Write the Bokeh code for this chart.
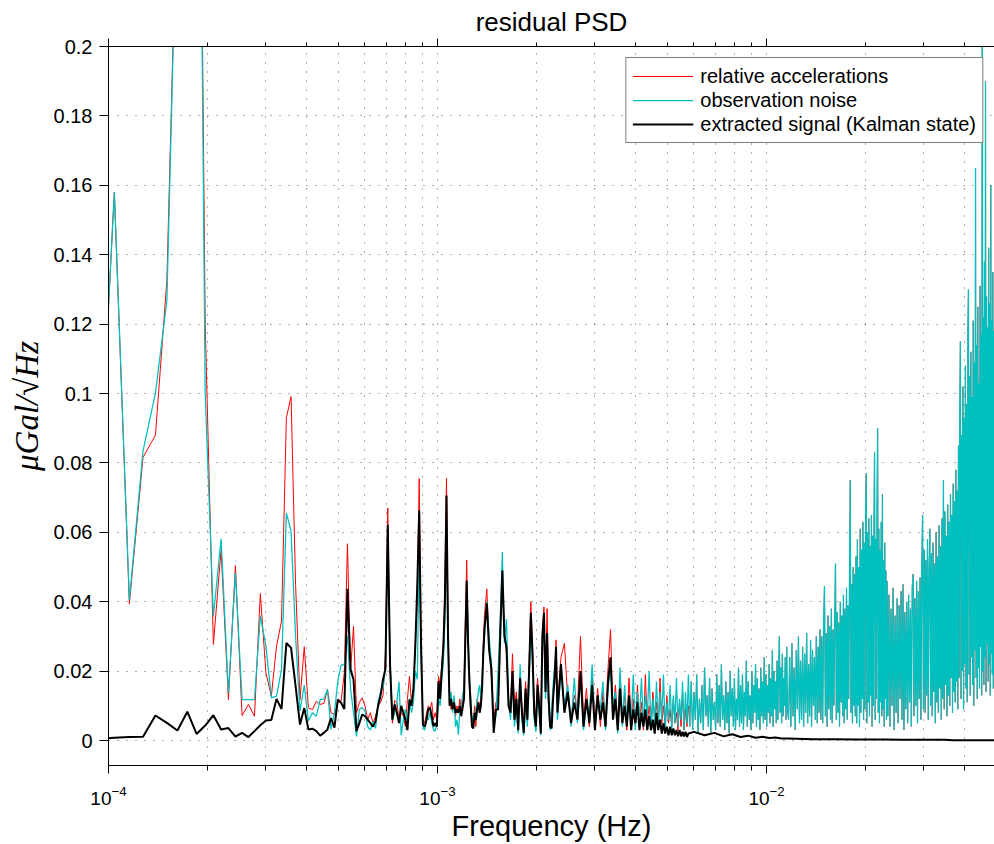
from bokeh.plotting import figure
from bokeh.models import (LogAxis, FixedTicker, PrintfTickFormatter, LogTickFormatter, Range1d)
from bokeh.embed import file_html
from bokeh.resources import INLINE

# FFT bin width: one-day record -> df = 1/86400 Hz
DAY_SECONDS = 86400.0

# ---- frequency bins (bin index k, f = k/86400) ----
BINS_LOW = list(range(8, 81))
BINS_B1 = list(range(81, 121))
BINS_B2 = list(range(122, 201, 2))
BINS_B3 = list(range(205, 501, 5))
BINS_C1 = list(range(505, 1001, 5))
BINS_C2A = list(range(1008, 2009, 8))
BINS_C2B = list(range(2020, 4316, 15))
BINS_BLACK_TAIL = [520, 560, 600, 640, 680, 720, 760, 800, 840, 880, 920, 960, 1000,
                   1200, 1400, 1600, 1800, 2000, 2200, 2400, 2600, 2800, 3000, 3200,
                   3400, 3600, 3800, 4000, 4200, 4320]

# ---- observation noise (cyan) ----
CYAN_LOW = [0.063, 0.158,
            0.0405, 0.0835, 0.1001, 0.1267, 0.250, 0.340, 0.380, 0.100, 0.0358, 0.0581,
            0.0137, 0.0483, 0.0118, 0.0118, 0.0118, 0.0360, 0.0272, 0.0123, 0.0128, 0.0205,
            0.0656, 0.0603, 0.0300, 0.0085, 0.0160, 0.0056, 0.0080, 0.0070, 0.0118, 0.0120,
            0.0147, 0.0032, 0.0080, 0.0171, 0.0217, 0.0219, 0.0300, 0.0150, 0.0080, 0.0012,
            0.0090, 0.0095, 0.0085, 0.0040, 0.0030, 0.0055, 0.0035, 0.0110, 0.0140, 0.0150,
            0.0214, 0.0580, 0.0229, 0.0060, 0.0080, 0.0110, 0.0170, 0.0015, 0.0060, 0.0090,
            0.0050, 0.0120, 0.0080, 0.0110, 0.0200, 0.0176, 0.0560, 0.0250, 0.0040, 0.0030,
            0.0060]
CYAN_B1 = [0.006, 0.008, 0.005, 0.003, 0.0027, 0.005, 0.012, 0.010, 0.018, 0.022,
           0.035, 0.062, 0.028, 0.011, 0.014, 0.008, 0.013, 0.004, 0.006, 0.0017,
           0.009, 0.010, 0.013, 0.015, 0.028, 0.043, 0.032, 0.019, 0.012, 0.005,
           0.007, 0.006, 0.009, 0.011, 0.014, 0.016, 0.012, 0.018, 0.024, 0.030]
CYAN_B2 = [0.040, 0.030, 0.022, 0.004, 0.007, 0.020, 0.035, 0.0543, 0.028, 0.035,
           0.013, 0.006, 0.018, 0.004, 0.009, 0.002, 0.022, 0.006, 0.0015, 0.012,
           0.004, 0.016, 0.034, 0.022, 0.006, 0.0025, 0.014, 0.008, 0.0015, 0.027,
           0.033, 0.012, 0.028, 0.010, 0.003, 0.009, 0.016, 0.021, 0.024, 0.006]
CYAN_B3 = [0.020, 0.010, 0.016, 0.004, 0.018, 0.005, 0.018, 0.003, 0.010, 0.008,
           0.022, 0.004, 0.011, 0.009, 0.017, 0.003, 0.015, 0.022, 0.010, 0.014,
           0.002, 0.021, 0.004, 0.016, 0.006, 0.012, 0.005, 0.019, 0.003, 0.014,
           0.006, 0.018, 0.004, 0.013, 0.007, 0.020, 0.003, 0.012, 0.005, 0.017,
           0.004, 0.014, 0.006, 0.019, 0.003, 0.011, 0.006, 0.016, 0.003, 0.013,
           0.005, 0.018, 0.004, 0.012, 0.006, 0.017, 0.003, 0.014, 0.005, 0.019]

# ---- relative accelerations (red) ----
RED_LOW = [0.063, 0.158,
           0.0394, 0.0816, 0.0880, 0.1326, 0.250, 0.340, 0.380, 0.120, 0.0277, 0.0550,
           0.0118, 0.0504, 0.0072, 0.0104, 0.0070, 0.0423, 0.0195, 0.0128, 0.0272, 0.0344,
           0.0930, 0.0991, 0.0450, 0.0118, 0.0270, 0.0094, 0.0089, 0.0113, 0.0104, 0.0107,
           0.0147, 0.0080, 0.0075, 0.0109, 0.0113, 0.0195, 0.0567, 0.0200, 0.0330, 0.0080,
           0.0110, 0.0123, 0.0100, 0.0060, 0.0080, 0.0050, 0.0070, 0.0100, 0.0110, 0.0130,
           0.0250, 0.0670, 0.0200, 0.0050, 0.0115, 0.0110, 0.0060, 0.0080, 0.0070, 0.0040,
           0.0120, 0.0185, 0.0110, 0.0130, 0.0290, 0.0400, 0.0755, 0.0300, 0.0060, 0.0050,
           0.0080]
RED_B1 = [0.010, 0.009, 0.011, 0.006, 0.008, 0.006, 0.0185, 0.016, 0.022, 0.028,
          0.048, 0.0755, 0.034, 0.012, 0.009, 0.010, 0.012, 0.007, 0.010, 0.008,
          0.012, 0.009, 0.011, 0.016, 0.035, 0.052, 0.030, 0.015, 0.008, 0.006,
          0.005, 0.010, 0.004, 0.012, 0.010, 0.009, 0.013, 0.017, 0.028, 0.036]
RED_B2 = [0.0437, 0.028, 0.018, 0.006, 0.011, 0.012, 0.033, 0.046, 0.032, 0.025,
          0.012, 0.009, 0.025, 0.010, 0.014, 0.005, 0.016, 0.010, 0.004, 0.017,
          0.008, 0.022, 0.040, 0.027, 0.010, 0.007, 0.018, 0.012, 0.004, 0.032,
          0.0385, 0.016, 0.038, 0.014, 0.006, 0.005, 0.014, 0.016, 0.029, 0.010]
RED_B3 = [0.024, 0.028, 0.012, 0.007, 0.013, 0.009, 0.030, 0.006, 0.015, 0.004,
          0.018, 0.006, 0.015, 0.004, 0.014, 0.006, 0.021, 0.032, 0.008, 0.016,
          0.005, 0.019, 0.007, 0.013, 0.003, 0.018, 0.006, 0.012, 0.004, 0.016,
          0.005, 0.011, 0.003, 0.019, 0.005, 0.010, 0.004, 0.014, 0.006, 0.011,
          0.003, 0.018, 0.005, 0.010, 0.004, 0.013, 0.005, 0.009, 0.004, 0.012,
          0.005, 0.008, 0.003, 0.011, 0.004, 0.014, 0.003, 0.009, 0.004, 0.010]

# ---- high-frequency part: red and cyan coincide (red hidden under cyan) ----
HF_C1 = [0.004, 0.017, 0.003, 0.014, 0.006, 0.019, 0.002, 0.012, 0.005, 0.016,
         0.003, 0.021, 0.007, 0.013, 0.004, 0.018, 0.002, 0.015, 0.006, 0.011,
         0.003, 0.019, 0.005, 0.016, 0.004, 0.022, 0.006, 0.013, 0.003, 0.017,
         0.005, 0.014, 0.002, 0.020, 0.007, 0.015, 0.004, 0.018, 0.003, 0.012,
         0.006, 0.021, 0.004, 0.016, 0.005, 0.019, 0.003, 0.014, 0.007, 0.023,
         0.004, 0.017, 0.006, 0.013, 0.003, 0.020, 0.005, 0.016, 0.008, 0.022,
         0.004, 0.018, 0.006, 0.015, 0.003, 0.021, 0.007, 0.017, 0.005, 0.024,
         0.006, 0.019, 0.004, 0.016, 0.008, 0.022, 0.005, 0.018, 0.007, 0.026,
         0.004, 0.020, 0.009, 0.017, 0.005, 0.023, 0.006, 0.019, 0.030, 0.008,
         0.021, 0.005, 0.025, 0.007, 0.018, 0.010, 0.024, 0.006, 0.027, 0.009]
HF_C2A = [0.006, 0.024, 0.004, 0.028, 0.007, 0.021, 0.003, 0.026, 0.009, 0.030,
          0.005, 0.023, 0.006, 0.027, 0.004, 0.025, 0.008, 0.031, 0.005, 0.022,
          0.007, 0.029, 0.004, 0.026, 0.010, 0.024, 0.006, 0.030, 0.005, 0.027,
          0.008, 0.032,
          0.006, 0.030, 0.005, 0.034, 0.0445, 0.007, 0.031, 0.004, 0.036, 0.009,
          0.033, 0.006, 0.038, 0.005, 0.032, 0.010, 0.035, 0.051, 0.006, 0.037,
          0.008, 0.034, 0.004, 0.040, 0.011, 0.036, 0.007, 0.042, 0.005, 0.038,
          0.009, 0.044, 0.006, 0.039, 0.012, 0.047, 0.075, 0.008, 0.045, 0.005,
          0.050, 0.010, 0.048,
          0.007, 0.053, 0.005, 0.058, 0.010, 0.050, 0.004, 0.061, 0.008, 0.055,
          0.012, 0.063, 0.006, 0.057, 0.009, 0.066, 0.077, 0.005, 0.060, 0.011,
          0.064, 0.007, 0.056, 0.013, 0.065, 0.004, 0.059, 0.010, 0.062, 0.083,
          0.006, 0.058, 0.012, 0.066, 0.090, 0.008, 0.061, 0.005, 0.055, 0.011,
          0.063, 0.007, 0.071, 0.009, 0.052, 0.004, 0.057, 0.012, 0.049, 0.006,
          0.046]
HF_C2B = [0.007, 0.042, 0.004, 0.038, 0.010, 0.044, 0.003, 0.036, 0.008, 0.041,
          0.005, 0.039, 0.012, 0.043, 0.006, 0.045, 0.003, 0.037, 0.009, 0.040,
          0.005, 0.042, 0.011, 0.038, 0.004, 0.044, 0.048, 0.007, 0.041, 0.010,
          0.046, 0.005, 0.043, 0.012, 0.047, 0.006, 0.050, 0.065, 0.009,
          0.055, 0.008, 0.052, 0.013, 0.058, 0.006, 0.049, 0.061, 0.010, 0.054,
          0.007, 0.057, 0.014, 0.051, 0.005, 0.060, 0.011, 0.053, 0.008, 0.062,
          0.015, 0.056, 0.006, 0.064, 0.012, 0.075, 0.009, 0.066, 0.016, 0.059,
          0.007, 0.068, 0.013, 0.063, 0.010, 0.071, 0.018, 0.065, 0.008, 0.074,
          0.014, 0.069, 0.011, 0.078, 0.017, 0.072, 0.009, 0.085,
          0.018, 0.095, 0.115, 0.012, 0.088, 0.020, 0.102, 0.009, 0.093, 0.022,
          0.108, 0.015, 0.097, 0.011, 0.118, 0.130, 0.019, 0.105, 0.013, 0.112,
          0.024, 0.099, 0.016, 0.121, 0.010, 0.109, 0.026, 0.165, 0.018, 0.114,
          0.012, 0.125, 0.021, 0.103, 0.015, 0.131, 0.027, 0.117, 0.013, 0.260,
          0.020, 0.122, 0.016, 0.138, 0.024, 0.190, 0.014, 0.128, 0.028, 0.119,
          0.017, 0.142, 0.022, 0.126, 0.013, 0.160, 0.025, 0.121, 0.019, 0.135,
          0.015, 0.118, 0.029, 0.127, 0.018, 0.113, 0.024]

# ---- extracted signal (Kalman state, black) ----
BLACK_LOW = [0.0005, 0.0008,
             0.0010, 0.0011, 0.0072, 0.0051, 0.0029, 0.0083, 0.0019, 0.0043, 0.0073, 0.0032,
             0.0036, 0.0011, 0.0022, 0.0010, 0.0027, 0.0044, 0.0058, 0.0059, 0.0120, 0.0091,
             0.0281, 0.0267, 0.0157, 0.0046, 0.0094, 0.0032, 0.0034, 0.0027, 0.0014, 0.0022,
             0.0032, 0.0065, 0.0037, 0.0118, 0.0109, 0.0091, 0.0437, 0.0205, 0.0176, 0.0027,
             0.0050, 0.0075, 0.0070, 0.0060, 0.0050, 0.0040, 0.0055, 0.0100, 0.0130, 0.0176,
             0.0205, 0.0622, 0.0214, 0.0060, 0.0104, 0.0080, 0.0050, 0.0100, 0.0080, 0.0060,
             0.0030, 0.0118, 0.0100, 0.0150, 0.0277, 0.0450, 0.0663, 0.0272, 0.0046, 0.0040,
             0.0060]
BLACK_B1 = [0.009, 0.0094, 0.007, 0.0041, 0.005, 0.004, 0.0171, 0.012, 0.020, 0.0272,
            0.040, 0.0706, 0.030, 0.010, 0.012, 0.009, 0.011, 0.008, 0.009, 0.008,
            0.010, 0.007, 0.0095, 0.012, 0.030, 0.046, 0.028, 0.017, 0.010, 0.004,
            0.0035, 0.008, 0.006, 0.009, 0.011, 0.008, 0.010, 0.015, 0.025, 0.032]
BLACK_B2 = [0.0395, 0.026, 0.0205, 0.0022, 0.009, 0.0089, 0.030, 0.049, 0.030, 0.027,
            0.010, 0.008, 0.020, 0.006, 0.012, 0.003, 0.018, 0.008, 0.0022, 0.015,
            0.006, 0.020, 0.0368, 0.025, 0.008, 0.004, 0.016, 0.010, 0.002, 0.030,
            0.0368, 0.014, 0.031, 0.012, 0.004, 0.0035, 0.012, 0.018, 0.027, 0.008]
BLACK_B3 = [0.022, 0.008, 0.014, 0.005, 0.011, 0.006, 0.020, 0.004, 0.012, 0.005,
            0.016, 0.003, 0.013, 0.006, 0.011, 0.004, 0.017, 0.024, 0.006, 0.012,
            0.003, 0.015, 0.005, 0.010, 0.004, 0.013, 0.003, 0.009, 0.005, 0.011,
            0.003, 0.008, 0.004, 0.009, 0.003, 0.007, 0.003, 0.006, 0.002, 0.008,
            0.003, 0.006, 0.002, 0.005, 0.002, 0.004, 0.0015, 0.004, 0.0015, 0.0035,
            0.0015, 0.003, 0.0012, 0.003, 0.0012, 0.0025, 0.0012, 0.0025, 0.001, 0.002]
BLACK_TAIL = [0.0025, 0.0015, 0.0022, 0.0012, 0.0018, 0.0010, 0.0014, 0.0008, 0.0011,
              0.0007, 0.0009, 0.0006, 0.0006,
              0.0004, 0.0004, 0.0003, 0.0003, 0.0003, 0.0002, 0.0002, 0.0002, 0.0002,
              0.0002, 0.0001, 0.0001, 0.0001, 0.0001, 0.0001, 0.0001, 0.0001]

# ---- axis ticks ----
X_MAJOR = [1e-4, 1e-3, 1e-2]
X_MINOR = [2e-4, 3e-4, 4e-4, 5e-4, 6e-4, 7e-4, 8e-4, 9e-4,
           2e-3, 3e-3, 4e-3, 5e-3, 6e-3, 7e-3, 8e-3, 9e-3,
           2e-2, 3e-2, 4e-2, 5e-2]
Y_TICKS = [0, 0.02, 0.04, 0.06, 0.08, 0.1, 0.12, 0.14, 0.16, 0.18, 0.2]

# ---- assemble series ----
bins_lo = BINS_LOW + BINS_B1 + BINS_B2 + BINS_B3
bins_hf = BINS_C1 + BINS_C2A + BINS_C2B
hf = HF_C1 + HF_C2A + HF_C2B
cyan = CYAN_LOW + CYAN_B1 + CYAN_B2 + CYAN_B3 + hf
red_lo = RED_LOW + RED_B1 + RED_B2 + RED_B3
bins_black = bins_lo + BINS_BLACK_TAIL
black = BLACK_LOW + BLACK_B1 + BLACK_B2 + BLACK_B3 + BLACK_TAIL
assert len(BINS_C1) == len(HF_C1), (len(BINS_C1), len(HF_C1))
assert len(BINS_C2A) == len(HF_C2A), (len(BINS_C2A), len(HF_C2A))
assert len(BINS_C2B) == len(HF_C2B), (len(BINS_C2B), len(HF_C2B))
assert len(bins_lo) == len(red_lo), (len(bins_lo), len(red_lo))
assert len(bins_lo) + len(bins_hf) == len(cyan), (len(bins_lo), len(cyan))
assert len(bins_black) == len(black), (len(bins_black), len(black))

f_lo = [k / DAY_SECONDS for k in bins_lo]
f_hf = [k / DAY_SECONDS for k in bins_hf]
f_all = f_lo + f_hf
f_black = [k / DAY_SECONDS for k in bins_black]

FONT = "Liberation Sans"

p = figure(width=994, height=844, x_axis_type="log",
           x_range=Range1d(1e-4, 0.0493), y_range=Range1d(-0.0072, 0.2),
           output_backend="svg", toolbar_location=None,
           min_border_left=108, min_border_right=0, min_border_top=46, min_border_bottom=78)
p.outline_line_color = None
p.background_fill_color = "white"
p.border_fill_color = "white"

# red series: low-frequency part, then the high-frequency part (which lies under cyan)
p.line(f_lo, red_lo, color="#ff0000", line_width=1, legend_label="relative accelerations")
p.line([f_lo[-1]] + f_hf, [red_lo[-1]] + hf, color="#ff0000", line_width=0.6)
p.line(f_all, cyan, color="#00bfbf", line_width=1.25, legend_label="observation noise")
p.line(f_black, black, color="#000000", line_width=2, legend_label="extracted signal (Kalman state)")

# title
p.title.text = "residual PSD"
p.title.align = "center"
p.title.text_font = FONT
p.title.text_font_size = "26px"
p.title.text_font_style = "normal"
p.title.text_color = "black"
p.title.standoff = 4

# x axis (below)
xt = FixedTicker(ticks=X_MAJOR, minor_ticks=X_MINOR)
xa = p.below[0]
xa.ticker = xt
xa.formatter = LogTickFormatter()
xa.major_tick_in = 0
xa.major_tick_out = 8
xa.minor_tick_in = 0
xa.minor_tick_out = 5
xa.axis_line_color = "black"
xa.major_tick_line_color = "black"
xa.minor_tick_line_color = "black"
xa.major_label_text_font = FONT
xa.major_label_text_font_size = "19px"
xa.major_label_text_color = "black"
xa.major_label_standoff = 12
xa.axis_label = "Frequency (Hz)"
xa.axis_label_text_font = FONT
xa.axis_label_text_font_size = "29px"
xa.axis_label_text_font_style = "normal"
xa.axis_label_text_color = "black"
xa.axis_label_standoff = 2

# x axis (above, ticks only; labels invisible)
top = LogAxis(ticker=FixedTicker(ticks=X_MAJOR, minor_ticks=X_MINOR))
top.major_label_text_font_size = "1px"
top.major_label_text_alpha = 0.0
top.major_label_standoff = 0
top.major_tick_in = 0
top.major_tick_out = 8
top.minor_tick_in = 0
top.minor_tick_out = 4
top.axis_line_color = "black"
top.major_tick_line_color = "black"
top.minor_tick_line_color = "black"
p.add_layout(top, "above")

# y axis
ya = p.left[0]
ya.ticker = FixedTicker(ticks=Y_TICKS)
ya.formatter = PrintfTickFormatter(format="%g")
ya.major_tick_in = 0
ya.major_tick_out = 9
ya.minor_tick_line_color = None
ya.axis_line_color = "black"
ya.major_tick_line_color = "black"
ya.major_label_text_font = FONT
ya.major_label_text_font_size = "20px"
ya.major_label_text_color = "black"
ya.major_label_standoff = 7
ya.axis_label = "μGal/√Hz"
ya.axis_label_text_font = "Liberation Serif"
ya.axis_label_text_font_style = "italic"
ya.axis_label_text_font_size = "33px"
ya.axis_label_text_color = "black"
ya.axis_label_standoff = 6

# grids
p.xgrid.ticker = xt
p.xgrid.grid_line_color = "#333333"
p.xgrid.grid_line_dash = "1 8"
p.xgrid.grid_line_alpha = 0.8
p.xgrid.minor_grid_line_color = "#333333"
p.xgrid.minor_grid_line_dash = "1 8"
p.xgrid.minor_grid_line_alpha = 0.8
p.ygrid.ticker = FixedTicker(ticks=Y_TICKS)
p.ygrid.grid_line_color = "#333333"
p.ygrid.grid_line_dash = "1 8"
p.ygrid.grid_line_alpha = 0.8

# legend
leg = p.legend[0]
leg.location = "top_right"
leg.margin = 11
leg.padding = 6
leg.spacing = 0
leg.label_height = 24
leg.glyph_height = 24
leg.glyph_width = 61
leg.label_standoff = 7
leg.label_text_font = FONT
leg.label_text_font_size = "20px"
leg.label_text_color = "black"
leg.border_line_color = "black"
leg.border_line_width = 1
leg.background_fill_color = "white"
leg.background_fill_alpha = 1.0

open("out.html", "w").write(file_html(p, INLINE))
